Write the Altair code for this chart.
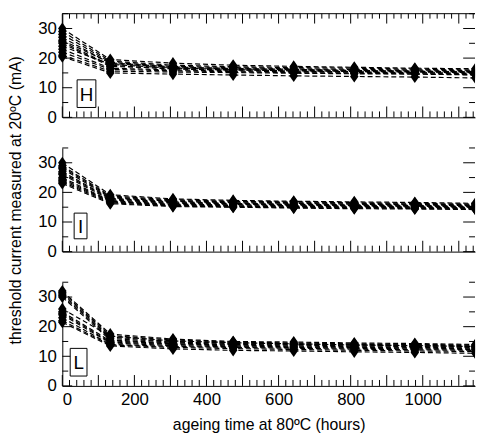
import altair as alt
import pandas as pd

# ---- data ----
times = [0, 133, 307, 474, 642, 810, 978, 1146]

H_values = [
    [30.0, 19.5, 18.3, 17.6, 17.2, 16.9, 16.6, 16.4],
    [29.0, 19.0, 17.6, 17.1, 16.8, 16.6, 16.3, 16.0],
    [28.0, 18.6, 17.2, 16.8, 16.4, 16.2, 16.0, 15.7],
    [27.0, 18.2, 16.8, 16.4, 16.1, 15.9, 15.7, 15.4],
    [26.0, 18.4, 17.0, 16.5, 16.2, 15.8, 15.6, 15.3],
    [25.5, 17.6, 16.3, 16.0, 15.7, 15.5, 15.3, 15.1],
    [25.0, 17.2, 16.5, 16.1, 15.9, 15.6, 15.5, 15.2],
    [24.0, 17.9, 16.6, 16.2, 15.6, 15.4, 15.1, 14.9],
    [23.0, 16.6, 16.0, 15.7, 15.4, 15.2, 15.0, 14.7],
    [22.0, 16.2, 15.7, 15.4, 15.1, 14.9, 14.7, 14.4],
    [21.0, 15.6, 15.3, 15.1, 14.9, 14.7, 14.6, 14.3],
    [20.5, 15.0, 14.6, 14.3, 14.0, 13.8, 13.6, 13.3],
]

I_values = [
    [30.0, 19.2, 17.8, 17.3, 17.0, 16.8, 16.6, 16.3],
    [29.0, 18.8, 17.5, 17.0, 16.8, 16.5, 16.3, 16.0],
    [28.5, 18.5, 17.2, 16.8, 16.5, 16.3, 16.0, 15.8],
    [28.0, 18.2, 17.0, 16.5, 16.3, 16.0, 15.8, 15.5],
    [27.0, 18.0, 16.8, 16.3, 16.0, 15.8, 15.6, 15.3],
    [26.5, 17.8, 16.5, 16.2, 15.8, 15.6, 15.4, 15.2],
    [26.0, 17.5, 16.3, 16.0, 15.7, 15.5, 15.3, 15.0],
    [25.0, 17.2, 16.0, 15.8, 15.5, 15.3, 15.1, 14.9],
    [24.5, 17.0, 15.8, 15.5, 15.3, 15.1, 15.0, 14.7],
    [24.0, 16.8, 15.6, 15.3, 15.1, 14.9, 14.8, 14.5],
    [23.5, 16.5, 15.4, 15.1, 14.9, 14.7, 14.6, 14.3],
    [23.0, 16.2, 15.2, 15.0, 14.7, 14.5, 14.4, 14.2],
]

L_values = [
    [32.0, 17.5, 15.8, 15.0, 14.8, 14.5, 14.3, 14.0],
    [31.5, 17.0, 15.5, 14.8, 14.5, 14.2, 14.0, 13.8],
    [31.0, 16.5, 15.0, 14.5, 14.2, 14.0, 13.8, 13.5],
    [30.5, 16.0, 14.8, 14.3, 14.0, 13.8, 13.5, 13.3],
    [30.0, 15.5, 14.5, 14.0, 13.8, 13.5, 13.3, 13.0],
    [26.0, 16.8, 15.2, 14.6, 14.2, 13.8, 13.6, 13.3],
    [25.0, 15.2, 14.2, 13.8, 13.5, 13.2, 13.0, 12.8],
    [24.5, 14.8, 14.0, 13.5, 13.2, 13.0, 12.8, 12.5],
    [24.0, 14.5, 13.6, 13.2, 13.0, 12.7, 12.5, 12.3],
    [23.0, 14.0, 13.3, 13.0, 12.7, 12.4, 12.2, 12.0],
    [22.0, 13.8, 13.0, 12.6, 12.3, 12.0, 11.8, 11.6],
    [21.5, 13.5, 12.5, 12.0, 11.8, 11.5, 11.3, 11.0],
]

panel_labels = ["H", "I", "L"]
y_label_values = [0, 10, 20, 30]
y_minor_values = [5, 15, 25, 35]
x_label_values = [0, 200, 400, 600, 800, 1000]
x_major_values = list(range(0, 1101, 100))
x_minor_values = [v for v in range(20, 1141, 20) if v % 100]

x_title = "ageing time at 80ºC (hours)"
y_title = "threshold current measured at 20ºC (mA)"

# ---- layout / style ----
W, HT = 418, 105
XMAX, YMAX = 1145, 35
FONT = "Liberation Sans"
MARKER = "M-0.7,0L0,-1L0.7,0L0,1Z"

xs = alt.Scale(domain=[0, XMAX], nice=False, zero=False)
ys = alt.Scale(domain=[0, YMAX], nice=False)


def long_df(values):
    rows = []
    for i, series in enumerate(values):
        for t, v in zip(times, series):
            rows.append({"device": i, "t": t, "I": v})
    return pd.DataFrame(rows)


def panel(values, name, box, show_x, show_ytitle, top_frame):
    df = long_df(values)
    xaxis = alt.Axis(values=x_label_values, ticks=False, labels=show_x,
                     title=x_title if show_x else None, grid=False, format="d",
                     labelPadding=6, titlePadding=9, labelOverlap=False)
    yaxis = alt.Axis(values=y_label_values, ticks=False, grid=False,
                     title=y_title if show_ytitle else None,
                     labelPadding=6, titlePadding=14, labelOverlap=False)
    X = alt.X("t:Q", scale=xs, axis=xaxis)
    Y = alt.Y("I:Q", scale=ys, axis=yaxis)

    def rules_x(vals, y0, y1):
        return alt.Chart(pd.DataFrame({"t": vals})).mark_rule(
            color="black", strokeWidth=1).encode(
            x=X, y=alt.value(y0), y2=alt.value(y1))

    def rules_y(vals, x0, x1):
        return alt.Chart(pd.DataFrame({"I": vals})).mark_rule(
            color="black", strokeWidth=1).encode(
            y=Y, x=alt.value(x0), x2=alt.value(x1))

    base = alt.Chart(df)
    lines = base.mark_line(color="black", strokeWidth=1.2, strokeDash=[5, 3],
                           clip=True).encode(x=X, y=Y, detail="device:N")
    pts_first = base.transform_filter("datum.t == 0").mark_point(
        shape=MARKER, filled=True, color="black", opacity=1, size=150
    ).encode(x=X, y=Y)
    pts_rest = base.transform_filter("datum.t > 0").mark_point(
        shape=MARKER, filled=True, color="black", opacity=1, size=150, clip=True
    ).encode(x=X, y=Y)
    layers = [lines, pts_first, pts_rest,
              rules_x(x_major_values, HT, HT - 11),
              rules_x(x_minor_values, HT, HT - 6),
              rules_y(y_label_values, 0, 10),
              rules_y(y_minor_values, 0, 6),
              rules_y(y_label_values, W - 12, W),
              rules_y(y_minor_values, W - 6, W)]
    if top_frame:
        one = alt.Chart(pd.DataFrame({"k": [0]}))
        layers.append(one.mark_rule(color="black", strokeWidth=1).encode(
            x=alt.value(0), x2=alt.value(W), y=alt.value(0)))
        layers.append(rules_x(x_major_values, 0, 10))
        layers.append(rules_x(x_minor_values, 0, 5))
    bx0, bx1, by0, by1 = box
    one = alt.Chart(pd.DataFrame({"k": [0]}))
    layers.append(one.mark_rect(fill="white", stroke="black", strokeWidth=1).encode(
        x=alt.value(bx0), x2=alt.value(bx1), y=alt.value(by0), y2=alt.value(by1)))
    layers.append(one.mark_text(font=FONT, fontSize=19, color="black",
                                align="center", baseline="middle").encode(
        x=alt.value((bx0 + bx1) / 2), y=alt.value((by0 + by1) / 2 + 1),
        text=alt.value(name)))
    return alt.layer(*layers).properties(width=W, height=HT)


pH = panel(H_values, panel_labels[0], (15, 34, 67, 95), False, False, True)
pI = panel(I_values, panel_labels[1], (12, 25, 66, 92), False, True, False)
pL = panel(L_values, panel_labels[2], (8, 25, 67, 95), True, False, False)

chart = alt.vconcat(pH, pI, pL, spacing=31, bounds="flush").properties(
    padding={"left": 0, "top": 2, "right": 0, "bottom": 2}
).configure_view(stroke=None).configure_axis(
    labelFont=FONT, labelFontSize=17, labelColor="black",
    titleFont=FONT, titleFontSize=16, titleColor="black",
    titleFontWeight="normal", domainColor="black", domainWidth=1,
)

chart.save("out.html", embed_options={"renderer": "svg", "actions": False})
